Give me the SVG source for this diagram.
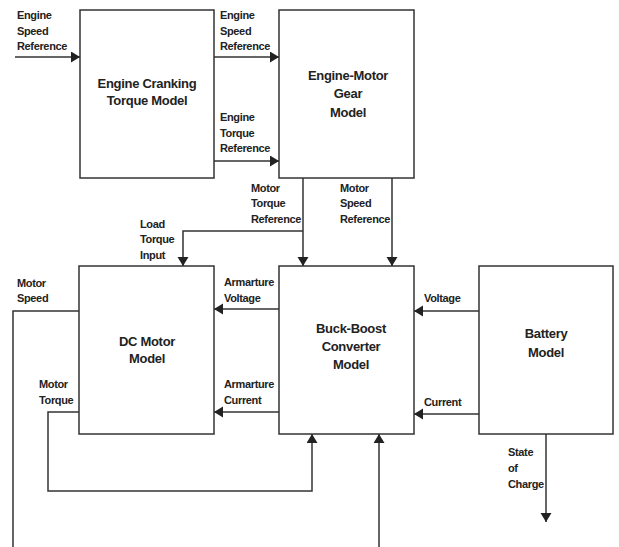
<svg xmlns="http://www.w3.org/2000/svg" width="619" height="547" viewBox="0 0 619 547">
<style>
.box{fill:#fff;stroke:#333;stroke-width:1.5}
.ln{fill:none;stroke:#333;stroke-width:1.5}
.arr{marker-end:url(#ah)}
.t{font-family:"Liberation Sans",Arial,sans-serif;font-weight:bold;font-size:13px;fill:#222;text-anchor:middle;letter-spacing:-0.3px}
.l{font-family:"Liberation Sans",Arial,sans-serif;font-weight:bold;font-size:11px;fill:#222;letter-spacing:-0.35px}
</style>
<defs>
<marker id="ah" markerUnits="userSpaceOnUse" markerWidth="10" markerHeight="12" refX="9" refY="5.5" orient="auto">
<path d="M0,0 L9,5.5 L0,11 z" fill="#222"/>
</marker>
</defs>
<rect width="619" height="547" fill="#fff"/>
<g id="connectors">
<path class="ln arr" d="M15,57 H80"/>
<path class="ln arr" d="M214,57 H279"/>
<path class="ln arr" d="M214,161 H279"/>
<path class="ln arr" d="M303,178 V266"/>
<path class="ln arr" d="M303,231 H183 V266"/>
<path class="ln arr" d="M392,178 V266"/>
<path class="ln arr" d="M279,309 H214"/>
<path class="ln arr" d="M279,412 H214"/>
<path class="ln arr" d="M479,311 H414"/>
<path class="ln arr" d="M479,414 H414"/>
<path class="ln" d="M79,311 H13 V547"/>
<path class="ln arr" d="M79,412 H48 V491 H312 V434"/>
<path class="ln arr" d="M379,547 V434"/>
<path class="ln arr" d="M546,434 V522"/>
</g>
<g id="engine-cranking">
<rect class="box" x="80" y="10" width="134" height="168"/>
<text class="t" x="147" y="88">Engine Cranking</text>
<text class="t" x="147" y="105">Torque Model</text>
</g>
<g id="engine-motor-gear">
<rect class="box" x="279" y="10" width="135" height="168"/>
<text class="t" x="348" y="80">Engine-Motor</text>
<text class="t" x="348" y="98">Gear</text>
<text class="t" x="348" y="117">Model</text>
</g>
<g id="dc-motor">
<rect class="box" x="79" y="266" width="135" height="168"/>
<text class="t" x="147" y="346">DC Motor</text>
<text class="t" x="147" y="363">Model</text>
</g>
<g id="buck-boost">
<rect class="box" x="279" y="266" width="135" height="168"/>
<text class="t" x="351" y="333">Buck-Boost</text>
<text class="t" x="351" y="351">Converter</text>
<text class="t" x="351" y="369">Model</text>
</g>
<g id="battery">
<rect class="box" x="479" y="266" width="134" height="168"/>
<text class="t" x="546" y="338">Battery</text>
<text class="t" x="546" y="357">Model</text>
</g>
<g id="labels">
<text class="l" x="17" y="19">Engine</text>
<text class="l" x="17" y="35">Speed</text>
<text class="l" x="17" y="50">Reference</text>
<text class="l" x="220" y="19">Engine</text>
<text class="l" x="220" y="35">Speed</text>
<text class="l" x="220" y="50">Reference</text>
<text class="l" x="220" y="121">Engine</text>
<text class="l" x="220" y="137">Torque</text>
<text class="l" x="220" y="152">Reference</text>
<text class="l" x="251" y="192">Motor</text>
<text class="l" x="251" y="207">Torque</text>
<text class="l" x="251" y="223">Reference</text>
<text class="l" x="340" y="192">Motor</text>
<text class="l" x="340" y="207">Speed</text>
<text class="l" x="340" y="223">Reference</text>
<text class="l" x="140" y="228">Load</text>
<text class="l" x="140" y="243">Torque</text>
<text class="l" x="140" y="259">Input</text>
<text class="l" x="17" y="287">Motor</text>
<text class="l" x="17" y="302">Speed</text>
<text class="l" x="224" y="286">Armarture</text>
<text class="l" x="224" y="302">Voltage</text>
<text class="l" x="39" y="388">Motor</text>
<text class="l" x="39" y="404">Torque</text>
<text class="l" x="224" y="388">Armarture</text>
<text class="l" x="224" y="404">Current</text>
<text class="l" x="424" y="302">Voltage</text>
<text class="l" x="424" y="406">Current</text>
<text class="l" x="508" y="456">State</text>
<text class="l" x="508" y="472">of</text>
<text class="l" x="508" y="488">Charge</text>
</g>
</svg>
